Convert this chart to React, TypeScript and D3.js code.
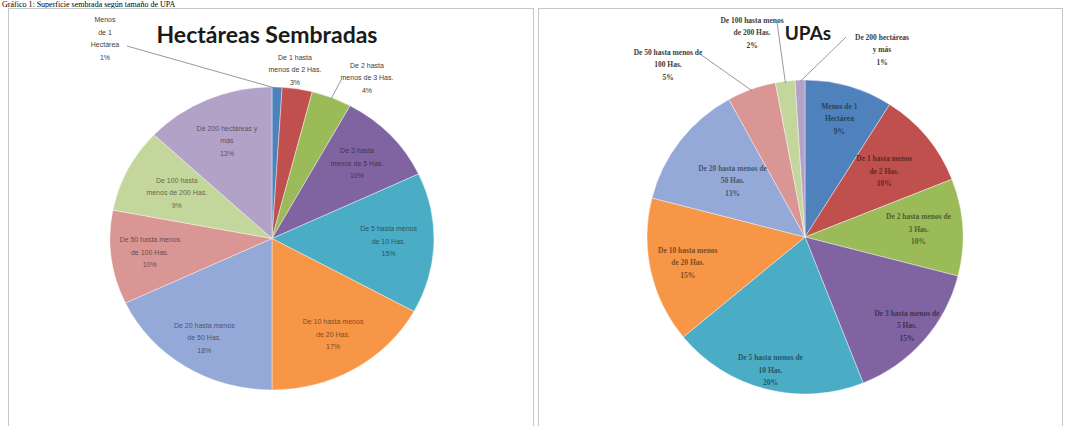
import React from "react";
import * as d3 from "d3";

// ---------- data ----------
const leftTitle = "Hectáreas Sembradas";
const rightTitle = "UPAs";
const pageCaption = "Gráfico 1: Superficie sembrada según tamaño de UPA";

const categoriesLeft = [
  ["Menos", "de 1", "Hectárea"],
  ["De 1 hasta", "menos de 2 Has."],
  ["De 2 hasta", "menos de 3 Has."],
  ["De 3 hasta", "menos de 5 Has."],
  ["De 5 hasta menos", "de 10 Has."],
  ["De 10 hasta menos", "de 20 Has."],
  ["De 20 hasta menos", "de 50 Has."],
  ["De 50 hasta menos", "de 100 Has."],
  ["De 100 hasta", "menos de 200 Has."],
  ["De 200 hectáreas y", "más"],
];
const valuesLeft = [1, 3, 4, 10, 15, 17, 18, 10, 9, 13];

const categoriesRight = [
  ["Menos de 1", "Hectárea"],
  ["De 1 hasta menos", "de 2 Has."],
  ["De 2 hasta menos de", "3 Has."],
  ["De 3 hasta menos de", "5 Has."],
  ["De 5 hasta menos de", "10 Has."],
  ["De 10 hasta menos", "de 20 Has."],
  ["De 20 hasta menos de", "50 Has."],
  ["De 50 hasta menos de", "100 Has."],
  ["De 100 hasta menos", "de 200 Has."],
  ["De 200 hectáreas", "y más"],
];
const valuesRight = [9, 10, 10, 15, 20, 15, 13, 5, 2, 1];

const sliceColors = [
  "#4F81BD", "#C0504D", "#9BBB59", "#8064A2", "#4BACC6",
  "#F79646", "#94A9D8", "#DA9694", "#C3D69B", "#B3A2C7",
];

// ---------- layout (label placement) ----------
type LabelLayout =
  | { kind: "in"; f: number }
  | { kind: "out"; x: number; y: number; lx: number; ly: number }
  | { kind: "free"; x: number; y: number };

const leftLayout: LabelLayout[] = [
  { kind: "out", x: 105, y: 39, lx: 127, ly: 46 },
  { kind: "free", x: 295, y: 70 },
  { kind: "out", x: 367, y: 78, lx: 341, ly: 80 },
  { kind: "in", f: 0.72 },
  { kind: "in", f: 0.72 },
  { kind: "in", f: 0.74 },
  { kind: "in", f: 0.78 },
  { kind: "in", f: 0.76 },
  { kind: "in", f: 0.66 },
  { kind: "in", f: 0.7 },
];

const rightLayout: LabelLayout[] = [
  { kind: "in", f: 0.78 },
  { kind: "in", f: 0.65 },
  { kind: "in", f: 0.72 },
  { kind: "in", f: 0.86 },
  { kind: "in", f: 0.88 },
  { kind: "in", f: 0.76 },
  { kind: "in", f: 0.58 },
  { kind: "out", x: 668, y: 65, lx: 700, ly: 54 },
  { kind: "out", x: 752, y: 33, lx: 777, ly: 22 },
  { kind: "out", x: 882, y: 50, lx: 846, ly: 37 },
];

interface PieProps {
  cx: number;
  cy: number;
  rx: number;
  ry: number;
  values: number[];
  cats: string[][];
  layout: LabelLayout[];
  font: string;
  fontSize: number;
  lineH: number;
  fontWeight?: number;
}

function Pie({ cx, cy, rx, ry, values, cats, layout, font, fontSize, lineH, fontWeight = 400 }: PieProps) {
  const pie = d3.pie<number>().sort(null).value((d) => d);
  const arcs = pie(values);
  const arc = d3.arc<d3.PieArcDatum<number>>().innerRadius(0).outerRadius(ry);
  const total = d3.sum(values);
  const pt = (a: number, f: number) => [cx + rx * f * Math.sin(a), cy - ry * f * Math.cos(a)];
  return (
    <g>
      <g transform={`translate(${cx},${cy}) scale(${rx / ry},1)`}>
        {arcs.map((a, i) => (
          <path
            key={i}
            d={arc(a) || ""}
            fill={sliceColors[i]}
            stroke="#ffffff"
            strokeWidth={0.4}
            vectorEffect="non-scaling-stroke"
          />
        ))}
      </g>
      {arcs.map((a, i) => {
        const L = layout[i];
        const mid = (a.startAngle + a.endAngle) / 2;
        const lines = [...cats[i], `${Math.round((values[i] / total) * 100)}%`];
        let x: number, y: number;
        let leader: React.ReactNode = null;
        if (L.kind === "in") {
          [x, y] = pt(mid, L.f);
        } else {
          x = L.x;
          y = L.y;
          if (L.kind === "out") {
            const [ex, ey] = pt(mid, 0.99);
            leader = <line x1={L.lx} y1={L.ly} x2={ex} y2={ey} stroke="#7f7f7f" strokeWidth={0.8} />;
          }
        }
        const color = L.kind === "in" ? d3.color(sliceColors[i])!.darker(1.9).formatHex() : "#404040";
        const y0 = y - ((lines.length - 1) * lineH) / 2;
        return (
          <g key={"l" + i}>
            {leader}
            <text
              textAnchor="middle"
              dominantBaseline="middle"
              fontFamily={font}
              fontSize={fontSize}
              fontWeight={fontWeight}
              fill={color}
            >
              {lines.map((t, j) => (
                <tspan key={j} x={x} y={y0 + j * lineH}>
                  {t}
                </tspan>
              ))}
            </text>
          </g>
        );
      })}
    </g>
  );
}

export default function App() {
  return (
    <svg
      width={1066}
      height={426}
      style={{ position: "absolute", left: 0, top: 0, background: "#ffffff" }}
    >
      <text x={2} y={6.5} fontFamily="Liberation Serif" fontSize={8} fill="#000">
        {pageCaption}
      </text>
      {/* panels */}
      <rect x={8.5} y={8.5} width={525} height={430} fill="#ffffff" stroke="#c6c6c6" strokeWidth={1} />
      <rect x={538.5} y={8.5} width={524} height={430} fill="#ffffff" stroke="#c6c6c6" strokeWidth={1} />

      <text x={267} y={43} textAnchor="middle" fontFamily="Lato" fontWeight={700} fontSize={23} fill="#1a1a1a">
        {leftTitle}
      </text>
      <text x={808} y={40} textAnchor="middle" fontFamily="Lato" fontWeight={700} fontSize={19} fill="#1a1a1a">
        {rightTitle}
      </text>

      <Pie
        cx={272}
        cy={238.5}
        rx={162}
        ry={151.5}
        values={valuesLeft}
        cats={categoriesLeft}
        layout={leftLayout}
        font="Liberation Sans"
        fontSize={7}
        lineH={12.5}
      />
      <Pie
        cx={805}
        cy={237}
        rx={158}
        ry={157}
        values={valuesRight}
        cats={categoriesRight}
        layout={rightLayout}
        font="Liberation Serif"
        fontSize={7.5}
        lineH={12.5}
        fontWeight={700}
      />
    </svg>
  );
}
